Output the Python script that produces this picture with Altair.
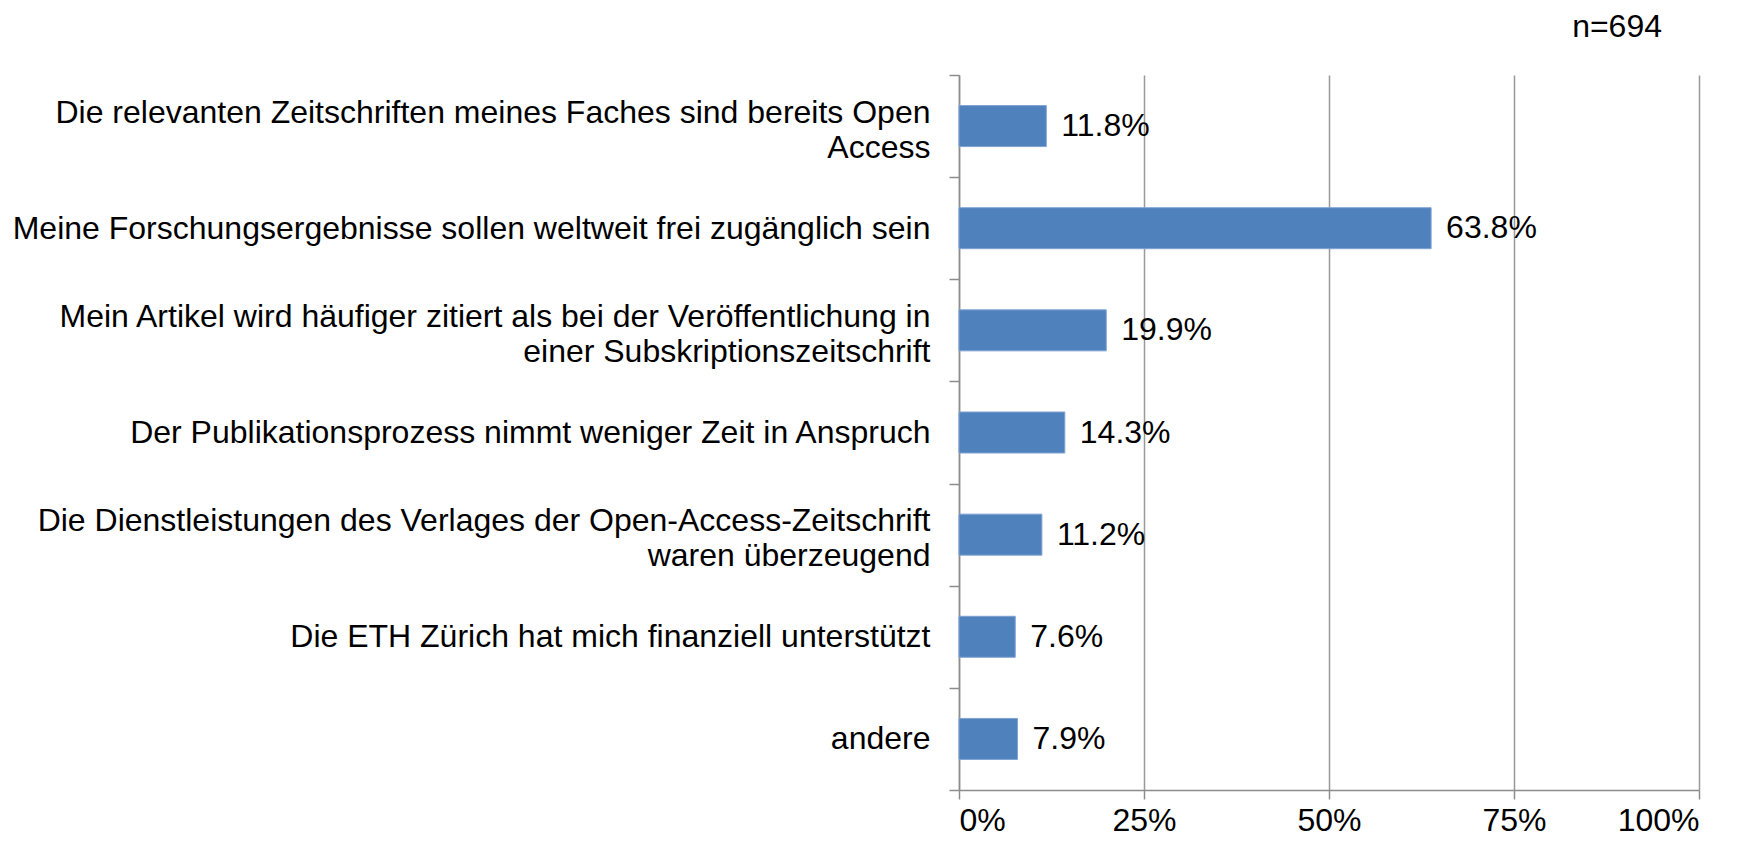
import altair as alt
import pandas as pd

categories = [
    "Die relevanten Zeitschriften meines Faches sind bereits Open|Access",
    "Meine Forschungsergebnisse sollen weltweit frei zugänglich sein",
    "Mein Artikel wird häufiger zitiert als bei der Veröffentlichung in|einer Subskriptionszeitschrift",
    "Der Publikationsprozess nimmt weniger Zeit in Anspruch ",
    "Die Dienstleistungen des Verlages der Open-Access-Zeitschrift|waren überzeugend",
    "Die ETH Zürich hat mich finanziell unterstützt",
    "andere",
]
values = [11.8, 63.8, 19.9, 14.3, 11.2, 7.6, 7.9]
x_ticks = [0, 25, 50, 75, 100]
note = "n=694"

df = pd.DataFrame({"cat": categories, "val": values})
df["lab"] = [f"{v:.1f}%" for v in values]

FONT = "Liberation Sans"
FS = 32

y_enc = alt.Y(
    "cat:N",
    sort=categories,
    scale=alt.Scale(paddingInner=0, paddingOuter=0),
    axis=alt.Axis(
        title=None,
        tickBand="extent",
        labelExpr="split(datum.label, '|')",
        labelOffset=alt.condition("indexof(datum.label, '|') >= 0", alt.value(-14), alt.value(0)),
        labelFont=FONT,
        labelFontSize=FS,
        labelLineHeight=35,
        labelColor="#000000",
        labelLimit=2000,
        labelPadding=19,
        tickSize=10,
        tickColor="#8c8c8c",
        domainColor="#8c8c8c",
        tickWidth=1.5,
        domainWidth=1.5,
        grid=False,
    ),
)

x_enc = alt.X(
    "val:Q",
    scale=alt.Scale(domain=[0, 100], nice=False),
    axis=alt.Axis(
        title=None,
        values=x_ticks,
        labelExpr="datum.value + '%'",
        labelFont=FONT,
        labelFontSize=FS,
        labelColor="#000000",
        labelPadding=6,
        tickSize=9,
        tickColor="#8c8c8c",
        domainColor="#8c8c8c",
        tickWidth=1.5,
        domainWidth=1.5,
        grid=True,
        gridColor="#999999",
        gridWidth=1.5,
    ),
)

bars = alt.Chart(df).mark_bar(size=41, color="#4f81bd", stroke="#7fa3d3", strokeWidth=1).encode(
    x=x_enc, y=y_enc
)

texts = alt.Chart(df).mark_text(
    align="left", baseline="middle", dx=15, font=FONT, fontSize=FS, color="#000000"
).encode(x="val:Q", y=alt.Y("cat:N", sort=categories), text="lab:N")

note_df = pd.DataFrame({"t": [note]})
note_mark = alt.Chart(note_df).mark_text(
    align="right", baseline="middle", font=FONT, fontSize=FS, color="#000000"
).encode(x=alt.value(703), y=alt.value(-48), text="t:N")

chart = (
    alt.layer(bars, texts, note_mark)
    .properties(
        width=740,
        height=715,
        padding={"left": 951, "top": 67, "right": 44, "bottom": 52},
        autosize=alt.AutoSizeParams(type="none"),
    )
    .configure_view(stroke=None)
)

chart.save("out.html", embed_options={"renderer": "svg", "actions": False})
